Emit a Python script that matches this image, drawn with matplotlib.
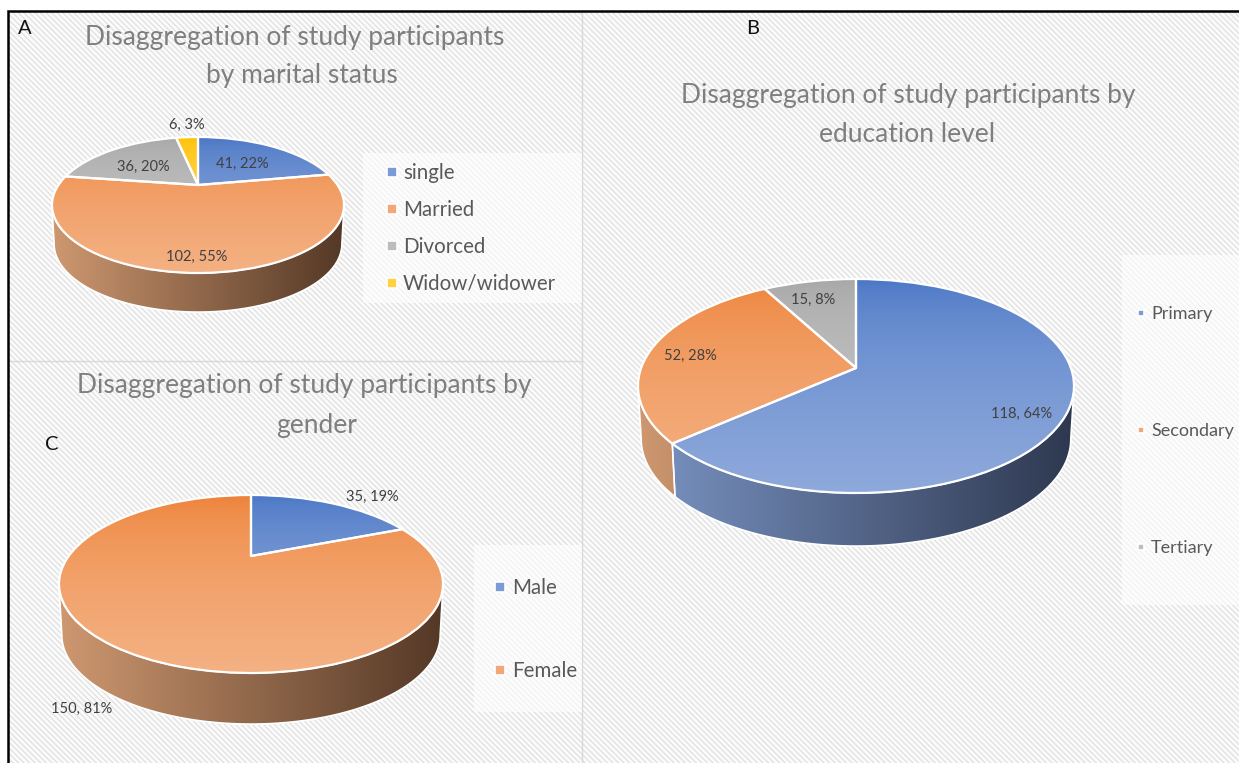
import numpy as np
import matplotlib
matplotlib.use("Agg")
import matplotlib.pyplot as plt
import matplotlib.patches as mpatches
from matplotlib.transforms import Transform

# ---- data ----
marital_labels = ["single", "Married", "Divorced", "Widow/widower"]
marital_values = [41, 102, 36, 6]
marital_pct = [22, 55, 20, 3]
education_labels = ["Primary", "Secondary", "Tertiary"]
education_values = [118, 52, 15]
education_pct = [64, 28, 8]
gender_labels = ["Male", "Female"]
gender_values = [35, 150]
gender_pct = [19, 81]
title_a = "Disaggregation of study participants\nby marital status"
title_b = "Disaggregation of study participants by\neducation level"
title_c = "Disaggregation of study participants by\ngender"

W, H = 1239, 763
FONT = "Lato"
plt.rcParams["hatch.linewidth"] = 0.9

TOP = {  # top colour, bottom colour of a slice's face
    "blue": ((68, 114, 196), (142, 169, 219)),
    "orange": ((237, 125, 49), (244, 177, 131)),
    "gray": ((165, 165, 165), (200, 200, 200)),
    "gold": ((255, 192, 0), (255, 217, 102)),
}
WALL = {
    "blue": ((122, 148, 195), (46, 56, 80)),
    "orange": ((206, 152, 112), (84, 56, 38)),
}
SWATCH = {"blue": "#7b9bd6", "orange": "#f4a678", "gray": "#bdbdbd", "gold": "#ffd040"}


class Perspective(Transform):
    """Projects the unit pie disc to an ellipse seen from a tilted viewpoint."""
    input_dims = 2
    output_dims = 2
    is_separable = False
    has_inverse = False

    def __init__(self, cx, cy, a, b, t):
        super().__init__()
        self.cx, self.cy, self.a, self.b, self.t = cx, cy, a, b, t

    def transform_non_affine(self, values):
        values = np.asarray(values, dtype=float)
        u, v = values[:, 0], values[:, 1]
        w = 1 + self.t * v
        x = self.cx + self.a * np.sqrt(1 - self.t ** 2) * u / w
        y = self.cy - self.b * (v + self.t) / w
        return np.column_stack([x, y])


def gradient(c0, c1, horizontal, gamma=1.0):
    s = np.linspace(0, 1, 256)[:, np.newaxis] ** gamma
    c = np.array(c0) / 255 * (1 - s) + np.array(c1) / 255 * s
    return c[np.newaxis, :, :] if horizontal else c[:, np.newaxis, :]


def draw_pie(ax, values, colors, cx, cy, a, b, apex_y, depth):
    t = (cy - apex_y) / b
    persp = Perspective(cx, cy, a, b, t)
    tr = persp + ax.transData

    # side wall
    alpha = np.degrees(np.arcsin(t))
    lo, hi = -180 + alpha, -alpha
    edges = 90 - np.cumsum([0] + list(values)) / sum(values) * 360
    for i, col in enumerate(colors):
        th1, th2 = edges[i], edges[i + 1]
        s, e = max(th2, lo), min(th1, hi)
        if e <= s:
            continue
        ang = np.radians(np.linspace(s, e, 160))
        top = persp.transform_non_affine(np.column_stack([np.cos(ang), np.sin(ang)]))
        bot = top.copy()
        bot[:, 0] = cx + (bot[:, 0] - cx) * 0.985
        bot[:, 1] += depth
        poly = np.vstack([top, bot[::-1]])
        patch = mpatches.Polygon(poly, closed=True, fc="white", ec="white", lw=1.2, zorder=2)
        ax.add_patch(patch)
        im = ax.imshow(gradient(*WALL[col], True), extent=(cx - a, cx + a, cy + b + depth, cy - b),
                       aspect="auto", interpolation="bilinear", zorder=2.1)
        im.set_clip_path(patch)
        ax.add_patch(mpatches.Polygon(poly, closed=True, fc="none", ec="white", lw=1.1, zorder=2.2))

    # top face
    wedges, _ = ax.pie(values, colors=[SWATCH[c] for c in colors], startangle=90,
                       counterclock=False, radius=1, center=(0, 0),
                       wedgeprops={"linewidth": 0})
    for w, col in zip(wedges, colors):
        w.set_transform(tr)
        w.set_zorder(3)
        im = ax.imshow(gradient(*TOP[col], False, 0.5), extent=(cx - a, cx + a, cy + b, cy - b),
                       aspect="auto", interpolation="bilinear", zorder=3.1)
        im.set_clip_path(w)
    for w in wedges:
        ax.add_patch(mpatches.PathPatch(w.get_path(), fc="none", ec="white", lw=1.6,
                                        transform=tr, zorder=3.2, clip_on=False,
                                        joinstyle="round"))


def slice_label(ax, value, pct, x, y):
    ax.text(x, y + 1.5, f"{value}, {pct}%", ha="center", va="center", fontsize=10.5,
            color="#404040", family=FONT, zorder=5)


def legend(ax, labels, colors, box, xm, xt, ys, fs, ms):
    x0, y0, x1, y1 = box
    ax.add_patch(mpatches.Rectangle((x0, y0), x1 - x0, y1 - y0, fc="white", ec="none",
                                    alpha=0.6, zorder=1))
    for lab, col, y in zip(labels, colors, ys):
        ax.plot([xm], [y], marker="s", ms=ms, mfc=SWATCH[col], mec="white", mew=1.2, zorder=5)
        ax.text(xt, y + 1, lab, ha="left", va="center", fontsize=fs, color="#595959",
                family=FONT, zorder=5)


def title(ax, text, xs, ys, fs):
    for line, x, y in zip(text.split("\n"), xs, ys):
        ax.text(x, y, line, ha="center", va="center", fontsize=fs, color="#7f7f7f",
                family=FONT, zorder=5)


fig = plt.figure(figsize=(W / 100, H / 100), dpi=100, facecolor="white")
ax = fig.add_axes([0, 0, 1, 1])

# background
ax.add_patch(mpatches.Rectangle((8, 11), W - 8, H - 11, facecolor="#fbfbfb", edgecolor="#e0e0e0",
                                hatch="\\\\\\\\\\\\", linewidth=0, zorder=0))
ax.plot([582, 582], [11, H], color="#d9d9d9", lw=1, zorder=0.5)
ax.plot([8, 582], [361, 361], color="#d9d9d9", lw=1, zorder=0.5)
ax.plot([8, 8, W], [H, 11, 11], color="black", lw=1.8, zorder=6, solid_joinstyle="miter")

c_a = ["blue", "orange", "gray", "gold"]
c_b = ["blue", "orange", "gray"]
c_c = ["blue", "orange"]

draw_pie(ax, marital_values, c_a, 198, 205, 146, 68, 185, 39)
draw_pie(ax, education_values, c_b, 856, 386, 218, 107, 368, 53)
draw_pie(ax, gender_values, c_c, 251, 584, 192, 89, 556, 51)

for v, p, (x, y) in zip(marital_values, marital_pct, [(242, 162), (197, 255), (143, 165), (187, 123)]):
    slice_label(ax, v, p, x, y)
for v, p, (x, y) in zip(education_values, education_pct, [(1022, 412), (690, 354), (813, 298)]):
    slice_label(ax, v, p, x, y)
for v, p, (x, y) in zip(gender_values, gender_pct, [(372, 495), (82, 707)]):
    slice_label(ax, v, p, x, y)

legend(ax, marital_labels, c_a, (363, 153, 582, 303), 391.5, 403, [172, 209, 246, 283], 14.8, 6.5)
legend(ax, education_labels, c_b, (1122, 255, 1239, 605), 1141, 1151, [313, 430, 547], 13, 5)
legend(ax, gender_labels, c_c, (474, 545, 582, 712), 500, 512, [587, 670], 14.8, 6.5)

title(ax, title_a, (295, 302), (37, 76), 19)
title(ax, title_b, (908, 907), (96, 134), 19)
title(ax, title_c, (304, 317), (386, 425), 19)

for s, x, y in [("A", 25, 29), ("B", 753, 29), ("C", 52, 444)]:
    ax.text(x, y, s, ha="center", va="center", fontsize=14.5, color="#111111", family=FONT, zorder=5)

ax.set_aspect("auto")
ax.set_xlim(0, W)
ax.set_ylim(H, 0)
ax.set_axis_off()
fig.savefig("out.png", dpi=100, facecolor="white")
